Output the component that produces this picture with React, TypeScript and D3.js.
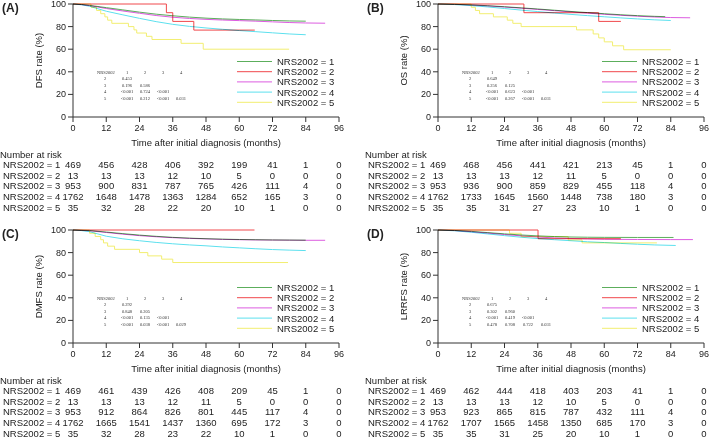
import React from 'react'
import * as d3 from 'd3'

const W = 709, H = 438
const margin = {left: 73, right: 339, top: 4, bottom: 117}

const groups = ['NRS2002 = 1', 'NRS2002 = 2', 'NRS2002 = 3', 'NRS2002 = 4', 'NRS2002 = 5']
const colors = ['#5cae5c', '#f0484c', '#dc5ce0', '#5ce0ee', '#f2ee70']
// groups 2 and 5 are small, drawn as visible steps
const stepped = [false, true, false, false, true]
const xTicks = [0, 12, 24, 36, 48, 60, 72, 84, 96]
const yTicks = [0, 20, 40, 60, 80, 100]

// survival curves [months, %], order: NRS 1..5
const dfsCurves = [
    [[0, 100], [3, 99.6], [6, 98.8], [9, 97.8], [12, 96.8], [18, 94.8], [24, 92.8], [30, 91], [36, 89.6], [42, 88.4], [48, 87.5], [54, 86.8], [60, 86.3], [66, 85.9], [72, 85.4], [78, 85], [84, 84.8]],
    [[0, 100], [33.7, 92.3], [36, 84.6], [43.6, 76.9], [65.6, 76.9]],
    [[0, 100], [3, 99.5], [6, 98.5], [9, 97.3], [12, 96], [18, 93.8], [24, 91.8], [30, 89.8], [36, 88.3], [42, 87.2], [48, 86.4], [54, 85.8], [60, 85.3], [66, 84.8], [72, 84.2], [78, 83.6], [84, 83.2], [91, 83]],
    [[0, 100], [3, 99.3], [6, 98], [9, 95.8], [12, 93.6], [18, 90.4], [24, 87.3], [30, 84.4], [36, 82], [42, 80.2], [48, 78.8], [54, 77.6], [60, 76.5], [66, 75.5], [72, 74.5], [78, 73.5], [84, 72.8]],
    [[0, 100], [6.5, 97.1], [8.5, 94.3], [10, 91.4], [11.5, 88.6], [12.5, 85.7], [14, 82.9], [20, 80], [22, 77.1], [23, 74.3], [26.5, 71.4], [28.5, 68.6], [39, 65.2], [47, 60], [78, 60]],
]
const osCurves = [
    [[0, 100], [6, 99.7], [12, 99.2], [18, 98.5], [24, 97.6], [30, 96.6], [36, 95.6], [42, 94.5], [48, 93.4], [54, 92.4], [60, 91.4], [66, 90.5], [72, 89.7], [78, 89.1], [82, 88.8]],
    [[0, 100], [31, 92.3], [58, 84.6], [66, 84.6]],
    [[0, 100], [6, 99.7], [12, 99.1], [18, 98.3], [24, 97.3], [30, 96.3], [36, 95.2], [42, 94.1], [48, 93], [54, 91.9], [60, 90.9], [66, 90], [72, 89.2], [78, 88.5], [84, 88], [91, 87.8]],
    [[0, 100], [6, 99.5], [12, 98.6], [18, 97.4], [24, 96], [30, 94.6], [36, 93.3], [42, 92], [48, 90.8], [54, 89.7], [60, 88.7], [66, 87.7], [72, 86.8], [78, 86], [84, 85.4]],
    [[0, 100], [12, 97.1], [13.5, 94.3], [15, 91.4], [20, 88.6], [25, 85.7], [27, 82.9], [30, 80], [50, 77.1], [56, 73.5], [58, 70], [60, 66.5], [63, 63], [67, 59.5], [84, 59.5]],
]
const dmfsCurves = [
    [[0, 100], [6, 99.5], [12, 98.2], [18, 96.8], [24, 95.5], [30, 94.4], [36, 93.5], [42, 92.8], [48, 92.3], [54, 91.9], [60, 91.6], [66, 91.4], [72, 91.2], [78, 91.1], [84, 91]],
    [[0, 100], [65.5, 100]],
    [[0, 100], [6, 99.3], [12, 97.8], [18, 96.3], [24, 95], [30, 94], [36, 93.2], [42, 92.6], [48, 92.1], [54, 91.7], [60, 91.4], [66, 91.2], [72, 91.1], [78, 91], [84, 90.9], [91, 90.9]],
    [[0, 100], [3, 99.5], [6, 98.5], [9, 96.5], [12, 94.5], [18, 92.2], [24, 90.5], [30, 89], [36, 87.8], [42, 86.8], [48, 86], [54, 85], [60, 84.2], [66, 83.4], [72, 82.7], [78, 82.2], [84, 81.8]],
    [[0, 100], [6, 97.1], [8, 94.3], [10, 91.4], [11, 88.6], [12.5, 85.7], [15, 82.9], [24, 80], [27, 77.1], [32, 74.2], [36, 71.2], [77.6, 71.2]],
]
const lrrfsCurves = [
    [[0, 100], [6, 99.6], [12, 98.8], [18, 97.7], [24, 96.6], [30, 95.6], [36, 94.8], [42, 94.2], [48, 93.8], [54, 93.6], [60, 93.5], [72, 93.4], [85, 93.4]],
    [[0, 100], [36.1, 92.3], [66, 92.3]],
    [[0, 100], [6, 99.5], [12, 98.5], [18, 97.3], [24, 96], [30, 94.8], [36, 93.8], [42, 93], [48, 92.5], [54, 92.1], [60, 91.8], [72, 91.6], [84, 91.5], [92, 91.5]],
    [[0, 100], [6, 99.3], [12, 98], [18, 96.5], [24, 95], [30, 93.6], [36, 92.4], [42, 91.4], [48, 90.5], [54, 89.6], [60, 88.9], [66, 88.1], [72, 87.4], [78, 86.8], [85.8, 86.3]],
    [[0, 100], [25.8, 97.1], [30, 94.1], [47, 91.2], [52, 88.6], [79, 88.6]],
]

// number at risk at 0,12,...,96
const dfsRisk = [
    [469, 456, 428, 406, 392, 199, 41, 1, 0],
    [13, 13, 13, 12, 10, 5, 0, 0, 0],
    [953, 900, 831, 787, 765, 426, 111, 4, 0],
    [1762, 1648, 1478, 1363, 1284, 652, 165, 3, 0],
    [35, 32, 28, 22, 20, 10, 1, 0, 0],
]
const osRisk = [
    [469, 468, 456, 441, 421, 213, 45, 1, 0],
    [13, 13, 13, 12, 11, 5, 0, 0, 0],
    [953, 936, 900, 859, 829, 455, 118, 4, 0],
    [1762, 1733, 1645, 1560, 1448, 738, 180, 3, 0],
    [35, 35, 31, 27, 23, 10, 1, 0, 0],
]
const dmfsRisk = [
    [469, 461, 439, 426, 408, 209, 45, 1, 0],
    [13, 13, 13, 12, 11, 5, 0, 0, 0],
    [953, 912, 864, 826, 801, 445, 117, 4, 0],
    [1762, 1665, 1541, 1437, 1360, 695, 172, 3, 0],
    [35, 32, 28, 23, 22, 10, 1, 0, 0],
]
const lrrfsRisk = [
    [469, 462, 444, 418, 403, 203, 41, 1, 0],
    [13, 13, 13, 12, 10, 5, 0, 0, 0],
    [953, 923, 865, 815, 787, 432, 111, 4, 0],
    [1762, 1707, 1565, 1458, 1350, 685, 170, 3, 0],
    [35, 35, 31, 25, 20, 10, 1, 0, 0],
]

// pairwise p values (rows NRS 2..5 vs cols 1..4)
const dfsP = [['0.453'], ['0.196', '0.586'], ['<0.001', '0.724', '<0.001'], ['<0.001', '0.212', '<0.001', '0.031']]
const osP = [['0.649'], ['0.256', '0.125'], ['<0.001', '0.623', '<0.001'], ['<0.001', '0.267', '<0.001', '0.031']]
const dmfsP = [['0.292'], ['0.848', '0.205'], ['<0.001', '0.135', '<0.001'], ['<0.001', '0.038', '<0.001', '0.029']]
const lrrfsP = [['0.675'], ['0.302', '0.960'], ['<0.001', '0.419', '<0.001'], ['0.478', '0.708', '0.722', '0.031']]

const panels = [
    {label: '(A)', title: 'DFS rate (%)', curves: dfsCurves, risk: dfsRisk, p: dfsP, ox: 0, oy: 0},
    {label: '(B)', title: 'OS rate (%)', curves: osCurves, risk: osRisk, p: osP, ox: 365, oy: 0},
    {label: '(C)', title: 'DMFS rate (%)', curves: dmfsCurves, risk: dmfsRisk, p: dmfsP, ox: 0, oy: 226},
    {label: '(D)', title: 'LRRFS rate (%)', curves: lrrfsCurves, risk: lrrfsRisk, p: lrrfsP, ox: 365, oy: 226},
]

const x = d3.scaleLinear().domain([0, 96]).range([margin.left, margin.right])
const y = d3.scaleLinear().domain([0, 100]).range([margin.bottom, margin.top])
const font = '"Liberation Sans", Arial, sans-serif'
const ink = '#222'
const fs = 9.5

function Panel({p}: {p: typeof panels[0]}) {
    const lineStep = d3.line<number[]>().x(d => x(d[0])).y(d => y(d[1])).curve(d3.curveStepAfter)
    const lineSmooth = d3.line<number[]>().x(d => x(d[0])).y(d => y(d[1]))
    const pCols = [127, 145, 163, 181]
    return (
        <g transform={`translate(${p.ox},${p.oy})`} fontFamily={font} fill={ink}>
            <text x={2} y={8} fontSize={12} fontWeight="bold" dominantBaseline="central">{p.label}</text>
            {/* axes */}
            <g stroke="#333" strokeWidth={1} fill="none">
                <line x1={margin.left} x2={margin.left} y1={y(100)} y2={y(0)}/>
                <line x1={x(0)} x2={x(96)} y1={margin.bottom} y2={margin.bottom}/>
                {yTicks.map(t => <line key={t} x1={margin.left - 5} x2={margin.left} y1={y(t)} y2={y(t)}/>)}
                {xTicks.map(t => <line key={t} x1={x(t)} x2={x(t)} y1={margin.bottom} y2={margin.bottom + 5}/>)}
            </g>
            {yTicks.map(t => <text key={t} x={margin.left - 7} y={y(t)} fontSize={9} textAnchor="end" dominantBaseline="central">{t}</text>)}
            {xTicks.map(t => <text key={t} x={x(t)} y={128} fontSize={9} textAnchor="middle" dominantBaseline="central">{t}</text>)}
            <text x={(x(0) + x(96)) / 2} y={142} fontSize={fs} textAnchor="middle" dominantBaseline="central">Time after initial diagnosis (months)</text>
            <text transform={`translate(38,${(y(0) + y(100)) / 2}) rotate(-90)`} fontSize={fs} textAnchor="middle" dominantBaseline="central">{p.title}</text>
            {/* curves */}
            <g fill="none" strokeWidth={1}>
                {p.curves.map((c, i) =>
                    <path key={i} d={(stepped[i] ? lineStep : lineSmooth)(c) || ''} stroke={colors[i]}
                          style={{mixBlendMode: 'multiply'}}/>)}
            </g>
            {/* p-value table */}
            <g fontFamily='"Liberation Serif", serif' fontSize={4.5} fill="#333" textAnchor="middle">
                <text x={106} y={72} dominantBaseline="central">NRS2002</text>
                {pCols.map((cx, i) => <text key={i} x={cx} y={72} dominantBaseline="central">{i + 1}</text>)}
                {p.p.map((row, r) => (
                    <g key={r}>
                        <text x={105} y={78.6 + r * 6.5} dominantBaseline="central">{r + 2}</text>
                        {row.map((v, c) => <text key={c} x={pCols[c]} y={78.6 + r * 6.5} dominantBaseline="central">{v}</text>)}
                    </g>
                ))}
            </g>
            {/* legend */}
            {groups.map((g, i) => (
                <g key={g}>
                    <line x1={237} x2={272} y1={61.5 + i * 10.2} y2={61.5 + i * 10.2} stroke={colors[i]} strokeWidth={1}/>
                    <text x={277} y={61.5 + i * 10.2} fontSize={fs} dominantBaseline="central">{g}</text>
                </g>
            ))}
            {/* number at risk */}
            <text x={0} y={154} fontSize={fs} dominantBaseline="central">Number at risk</text>
            {p.risk.map((row, r) => (
                <g key={r}>
                    <text x={3} y={164.3 + r * 10.7} fontSize={fs} dominantBaseline="central">{groups[r]}</text>
                    {row.map((v, c) => <text key={c} x={x(xTicks[c])} y={164.3 + r * 10.7} fontSize={fs} textAnchor="middle" dominantBaseline="central">{v}</text>)}
                </g>
            ))}
        </g>
    )
}

export default function App() {
    return (
        <svg width={W} height={H} viewBox={`0 0 ${W} ${H}`} style={{position: 'absolute', left: 0, top: 0, background: '#fff'}}>
            {panels.map(p => <Panel key={p.label} p={p}/>)}
        </svg>
    )
}
